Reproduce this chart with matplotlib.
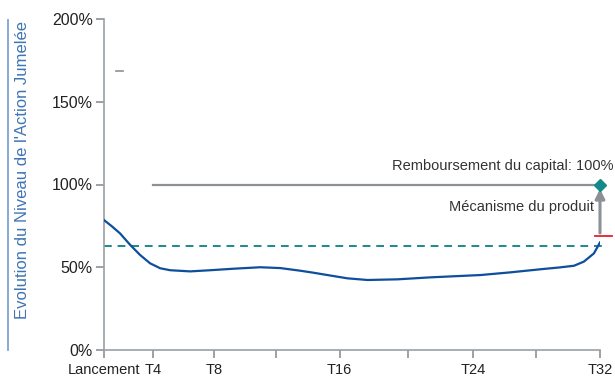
import numpy as np
import matplotlib.pyplot as plt
from matplotlib.lines import Line2D

plt.rcParams['font.family'] = ['Liberation Sans', 'DejaVu Sans']

# data (x in quarters since launch, y in % of initial level)
tick_pos = [0, 3.17, 7.11, 11.1, 15.2, 19.6, 23.8, 27.9, 32]
tick_lab = ['Lancement', 'T4', 'T8', '', 'T16', '', 'T24', '', 'T32']
curve_x = [0, 0.5, 1.03, 1.68, 2.33, 2.97, 3.62, 4.27, 5.56, 6.85, 8.34, 10.08,
           11.38, 12.67, 13.51, 14.6, 15.71, 17.0, 18.94, 21.07, 24.3, 26.2,
           28.18, 29.4, 30.32, 30.96, 31.61, 32]
curve_y = [78.5, 74.8, 70.5, 63.6, 57.4, 52.4, 49.4, 48.2, 47.5, 48.2, 49.1, 50.0,
           49.5, 47.9, 46.7, 45.0, 43.3, 42.3, 42.7, 43.9, 45.3, 46.9,
           48.8, 49.9, 50.9, 53.4, 58.4, 65.0]
barrier = 63
capital = 100
mech_level = 69

fig = plt.figure(figsize=(6.15, 3.76), dpi=100)
ax = fig.add_axes([104/615, 26/376, 496/615, 331/376])

ax.plot(curve_x, curve_y, color='#0d4f9c', lw=1.6, zorder=3)
ax.plot([0, 32.2], [barrier, barrier], color='#1a8a8f', lw=1.4, ls=(0, (4, 3)), clip_on=False)
ax.plot([3.17, 32], [capital, capital], color='#8c9196', lw=1.6)
ax.plot([0.75, 1.2], [168.5, 168.5], color='#8c9196', lw=1.2)
ax.plot([31.7, 32.8], [mech_level, mech_level], color='#e8202a', lw=1.3, clip_on=False, zorder=4)
ax.annotate('', xy=(32, capital - 1), xytext=(32, mech_level),
            arrowprops=dict(arrowstyle='-|>', color='#8c9196', lw=2.2, mutation_scale=14), zorder=3)
ax.plot([32], [capital], marker='D', color='#138a8a', ms=6, clip_on=False, zorder=5)

ax.text(25.7, 111, 'Remboursement du capital: 100%', ha='center', va='center', fontsize=10.5, color='#333333')
ax.text(31.6, 86.5, 'Mécanisme du produit', ha='right', va='center', fontsize=10.5, color='#333333')

ax.set_xlim(0, 32)
ax.set_ylim(0, 200)
ax.set_xticks(tick_pos)
ax.set_xticklabels(tick_lab, fontsize=10.5, color='#222222')
ax.set_yticks([0, 50, 100, 150, 200])
ax.set_yticklabels(['0%', '50%', '100%', '150%', '200%'], fontsize=11.5, color='#222222')
ax.tick_params(colors='#8c9196', labelcolor='#222222', length=6, width=1.2, pad=2)
ax.tick_params(axis='x', pad=3)
for s in ['top', 'right']:
    ax.spines[s].set_visible(False)
for s in ['left', 'bottom']:
    ax.spines[s].set_color('#9aa0a6')
    ax.spines[s].set_linewidth(1.2)

fig.text(23/615, 1 - 170/376, "Evolution du Niveau de l'Action Jumelée", rotation=90,
         ha='center', va='center', fontsize=12, color='#3f74b5')
fig.add_artist(Line2D([8/615, 8/615], [1 - 20/376, 1 - 350/376], color='#7ea3d3', lw=1.3))

fig.savefig('out.png', dpi=100)
